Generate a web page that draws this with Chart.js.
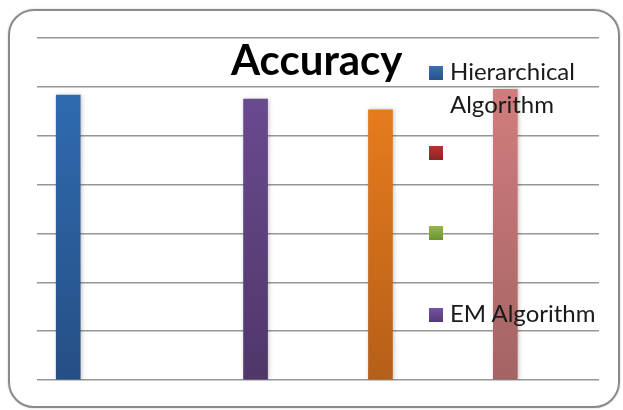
<!DOCTYPE html>
<html>
<head>
<meta charset="utf-8">
<script src="https://cdn.jsdelivr.net/npm/chart.js@4/dist/chart.umd.min.js"></script>
<style>
  html, body { margin: 0; padding: 0; background: #ffffff; }
  #wrap { position: relative; width: 623px; height: 410px; overflow: hidden; }
  #chart { position: absolute; left: 0; top: 0; }
  #frame {
    position: absolute; left: 8px; top: 9px; width: 608px; height: 395px;
    border: 2px solid #8a8a8a; border-radius: 26px;
    box-shadow: 0 0 2px rgba(0,0,0,0.25);
  }
  .txt { position: absolute; font-family: Lato, "Open Sans", sans-serif; color: #1a1a1a; white-space: nowrap; line-height: 1; }
  #title { left: 231px; top: 38px; font-size: 42px; font-weight: bold; color: #000; }
  .key { position: absolute; left: 429px; width: 14px; height: 14px; }
  .lbl { font-size: 24px; left: 450px; }
</style>
</head>
<body>
<div id="wrap">
  <canvas id="chart" width="623" height="410"></canvas>
  <div id="frame"></div>
  <div id="overlay"></div>
</div>
<script>
// Accuracy of each clustering run, one bar per occupied slot on a 9-slot axis
const chartTitle = 'Accuracy';
const slotCount = 9;
const barSlots = [0, 3, 5, 7];
const accuracy = [58.3, 57.5, 55.3, 59.5];
const yMin = 0;
const yMax = 70;
const yStep = 10;
const legendNames = ['Hierarchical Algorithm', '', '', 'EM Algorithm'];

// bar fills: top and bottom colour of each vertical gradient
const barTops = ['#3170b8', '#6f4e97', '#f2831f', '#d98181'];
const barBottoms = ['#264f84', '#4f3769', '#b55f19', '#a46464'];
const keyColors = [['#3a70b4', '#27528a'], ['#b83232', '#8e2424'], ['#93b84a', '#6d9232'], ['#7354a0', '#55397a']];
const keyTops = [66, 146, 226, 308];

const labels = Array.from({ length: slotCount }, (_, i) => 'slot ' + (i + 1));
const values = labels.map(() => null);
const slotColor = labels.map(() => null);
barSlots.forEach((s, i) => { values[s] = accuracy[i]; slotColor[s] = i; });

function barFill(context) {
  const chart = context.chart;
  const area = chart.chartArea;
  const k = slotColor[context.dataIndex];
  if (k === null || k === undefined) return 'rgba(0,0,0,0)';
  if (!area) return barTops[k];
  const el = context.element;
  const top = el && isFinite(el.y) ? el.y : area.top;
  const g = chart.ctx.createLinearGradient(0, top, 0, area.bottom);
  g.addColorStop(0, barTops[k]);
  g.addColorStop(1, barBottoms[k]);
  return g;
}

const barShadow = {
  id: 'barShadow',
  beforeDatasetDraw(chart) {
    const c = chart.ctx;
    c.save();
    c.shadowColor = 'rgba(0,0,0,0.22)';
    c.shadowBlur = 4;
    c.shadowOffsetX = 1;
    c.shadowOffsetY = 0;
  },
  afterDatasetDraw(chart) { chart.ctx.restore(); }
};

new Chart(document.getElementById('chart'), {
  type: 'bar',
  data: {
    labels: labels,
    datasets: [{
      label: chartTitle,
      data: values,
      backgroundColor: barFill,
      borderWidth: 0,
      barThickness: 24
    }]
  },
  options: {
    responsive: false,
    animation: false,
    layout: { padding: { left: 37, top: 38, right: 24, bottom: 30 } },
    plugins: { legend: { display: false }, title: { display: false }, tooltip: { enabled: false } },
    scales: {
      x: { display: false },
      y: {
        min: yMin, max: yMax,
        ticks: { display: false, stepSize: yStep },
        border: { display: false },
        grid: { color: '#969696', lineWidth: 1.5, drawTicks: false }
      }
    }
  },
  plugins: [barShadow]
});

// title and legend text laid over the plot
const overlay = document.getElementById('overlay');
const t = document.createElement('div');
t.className = 'txt'; t.id = 'title'; t.textContent = chartTitle;
overlay.appendChild(t);

legendNames.forEach((name, i) => {
  const key = document.createElement('div');
  key.className = 'key';
  key.style.top = keyTops[i] + 'px';
  key.style.background = 'linear-gradient(' + keyColors[i][0] + ',' + keyColors[i][1] + ')';
  overlay.appendChild(key);
});
// legend label lines and the top offset of each line
const labelLines = [['Hierarchical', 59], ['Algorithm', 92], ['EM Algorithm', 301]];
labelLines.forEach(([text, top]) => {
  const d = document.createElement('div');
  d.className = 'txt lbl';
  d.style.top = top + 'px';
  d.textContent = text;
  overlay.appendChild(d);
});
</script>
</body>
</html>
